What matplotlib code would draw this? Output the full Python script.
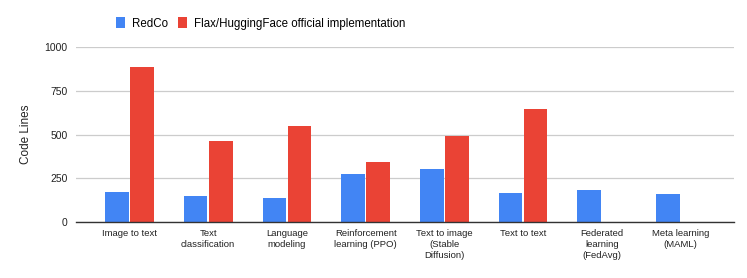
import matplotlib
matplotlib.use("Agg")
import matplotlib.pyplot as plt
import numpy as np

plt.rcParams["font.family"] = ["Liberation Sans", "DejaVu Sans"]

categories = [
    "Image to text",
    "Text\nclassification",
    "Language\nmodeling",
    "Reinforcement\nlearning (PPO)",
    "Text to image\n(Stable\nDiffusion)",
    "Text to text",
    "Federated\nlearning\n(FedAvg)",
    "Meta learning\n(MAML)",
]
redco = [172, 147, 137, 273, 303, 166, 185, 162]
official = [889, 464, 550, 343, 492, 645, 0, 0]

blue, red = "#4285F4", "#EA4335"

fig = plt.figure(figsize=(7.47, 2.78), dpi=100)
ax = fig.add_axes([0.1017, 0.2014, 0.8809, 0.6285])

x = np.arange(len(categories))
w = 0.3
ax.bar(x - w / 2 - 0.01, redco, w, color=blue, label="RedCo", zorder=3)
ax.bar(x + w / 2 + 0.01, official, w, color=red,
       label="Flax/HuggingFace official implementation", zorder=3)

ax.set_ylim(0, 1000)
ax.set_xlim(-0.68, 7.68)
ax.set_yticks([0, 250, 500, 750, 1000])
ax.yaxis.grid(True, color="#cccccc", lw=0.9, zorder=0)
for s in ["top", "right", "left"]:
    ax.spines[s].set_visible(False)
ax.spines["bottom"].set_color("#333333")
ax.spines["bottom"].set_linewidth(1.0)
ax.spines["bottom"].set_zorder(4)
ax.tick_params(axis="both", length=0, labelsize=7.5, colors="#222222")
ax.tick_params(axis="y", pad=6)
ax.tick_params(axis="x", pad=5)
ax.set_xticks(x)
ax.set_xticklabels(categories, va="top", linespacing=1.3, fontsize=6.8)
ax.set_ylabel("Code Lines", fontsize=8.5, color="#222222", labelpad=9)

fig.legend(loc="center", bbox_to_anchor=(0.349, 0.915), ncol=2, frameon=False,
           fontsize=8.3, handlelength=0.8, handleheight=1.1,
           handletextpad=0.55, columnspacing=0.9)

fig.savefig("out.png", dpi=100)
